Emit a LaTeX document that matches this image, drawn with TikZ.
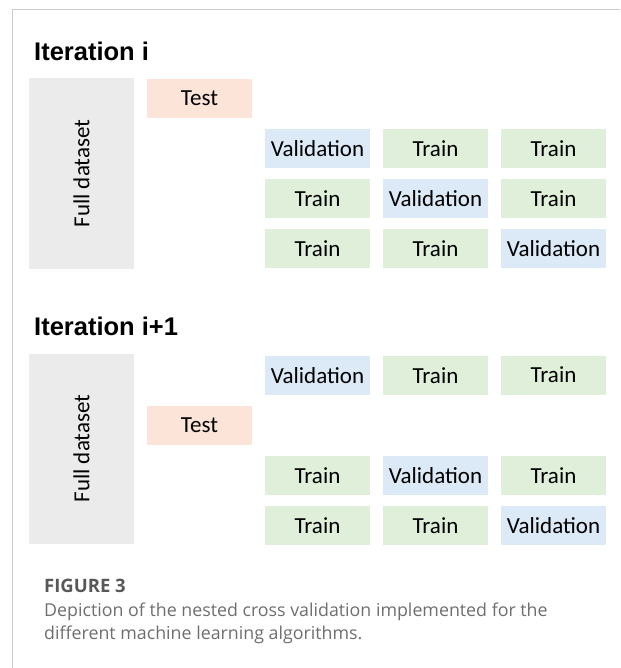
\documentclass[tikz,border=0pt]{standalone}
\usepackage{fontspec}
\setmainfont{Carlito}
\newfontfamily\headfont{Liberation Sans}
\newfontfamily\capfont{Open Sans}
\usepackage{xcolor}
\usepackage{tikz}
\usetikzlibrary{positioning}
\definecolor{fullgray}{HTML}{EBEBEB}
\definecolor{testred}{HTML}{FCE4D8}
\definecolor{trainfill}{HTML}{E0EFD9}
\definecolor{valfill}{HTML}{DCE9F6}
\definecolor{framegray}{HTML}{CBCBCB}
\definecolor{captext}{HTML}{6E6E6E}

\begin{document}
\begin{tikzpicture}[x=1pt, y=-1pt,
  cell/.style={minimum width=105pt, minimum height=39pt, inner sep=0pt,
    font=\fontsize{23}{26}\selectfont},
  train/.style={cell, fill=trainfill},
  valid/.style={cell, fill=valfill},
  testbox/.style={cell, fill=testred},
  fullbox/.style={minimum width=105pt, minimum height=190pt, inner sep=0pt, fill=fullgray},
  heading/.style={anchor=base west, inner sep=0pt, font=\headfont\bfseries\fontsize{25.5}{30}\selectfont},
  capline/.style={anchor=base west, inner sep=0pt, text=captext, font=\capfont\fontsize{17.8}{22}\selectfont}]
  \useasboundingbox (0,0) rectangle (620,668);
  % page frame
  \draw[framegray, line width=1pt] (620,10) -- (12,10) -- (12,668);

  % first iteration
  \node[heading] (head1) at (34,61) {Iteration i};
  \node[fullbox] (full1) at (81.5,173.5) {};
  \node[rotate=90, font=\fontsize{23}{26}\selectfont] (full1txt) at (full1.center) {Full dataset};
  \node[testbox] (test1) at (199.5,98.5) {Test};
  \node[valid] (a11) at (317.5,148.5) {Validation};
  \node[train] (a12) at (435.5,148.5) {Train};
  \node[train] (a13) at (553.5,148.5) {Train};
  \node[train] (a21) at (317.5,198.5) {Train};
  \node[valid] (a22) at (435.5,198.5) {Validation};
  \node[train] (a23) at (553.5,198.5) {Train};
  \node[train] (a31) at (317.5,248.5) {Train};
  \node[train] (a32) at (435.5,248.5) {Train};
  \node[valid] (a33) at (553.5,248.5) {Validation};

  % second iteration
  \node[heading] (head2) at (34,335) {Iteration i+1};
  \node[fullbox] (full2) at (81.5,448.5) {};
  \node[rotate=90, font=\fontsize{23}{26}\selectfont] (full2txt) at (full2.center) {Full dataset};
  \node[testbox] (test2) at (199.5,425) {Test};
  \node[valid] (b11) at (317.5,375.5) {Validation};
  \node[train] (b12) at (435.5,375.5) {Train};
  \node[train] (b13) at (553.5,375) {Train};
  \node[train] (b21) at (317.5,475.5) {Train};
  \node[valid] (b22) at (435.5,475.5) {Validation};
  \node[train] (b23) at (553.5,475.5) {Train};
  \node[train] (b31) at (317.5,525.5) {Train};
  \node[train] (b32) at (435.5,525.5) {Train};
  \node[valid] (b33) at (553.5,525.5) {Validation};

  % caption
  \node[capline, text=captext!80!black, font=\capfont\bfseries\fontsize{18.5}{22}\selectfont] (fig) at (44,592) {FIGURE 3};
  \node[capline] (cap1) at (44,616) {Depiction of the nested cross validation implemented for the};
  \node[capline] (cap2) at (44,639) {different machine learning algorithms.};
\end{tikzpicture}
\end{document}
